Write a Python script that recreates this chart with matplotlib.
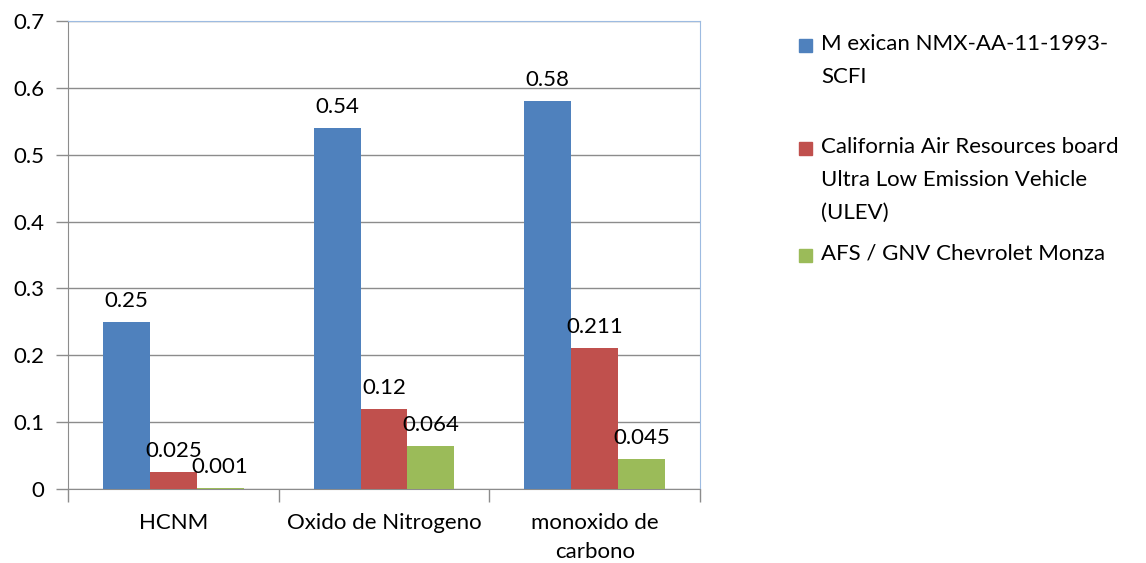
import numpy as np
import matplotlib
matplotlib.use('Agg')
import matplotlib.pyplot as plt
from matplotlib.patches import Rectangle

plt.rcParams['font.family'] = ['Lato', 'DejaVu Sans']

# Data
categories = ['HCNM', 'Oxido de Nitrogeno', 'monoxido de\ncarbono']
series_names = ['M exican NMX-AA-11-1993-\nSCFI',
                'California Air Resources board\nUltra Low Emission Vehicle\n(ULEV)',
                'AFS / GNV Chevrolet Monza']
mexican = [0.25, 0.54, 0.58]
carb_ulev = [0.025, 0.12, 0.211]
afs_gnv = [0.001, 0.064, 0.045]
colors = ['#4F81BD', '#C0504D', '#9BBB59']
yticks = [0, 0.1, 0.2, 0.3, 0.4, 0.5, 0.6, 0.7]
ytick_labels = ['0', '0.1', '0.2', '0.3', '0.4', '0.5', '0.6', '0.7']

fs = 16

fig = plt.figure(figsize=(11.46, 5.63), dpi=100)
ax = fig.add_axes([68/1146, 1 - 489/563, 632/1146, 468/563])

x = np.arange(len(categories))
w = 1 / 4.5
values = [mexican, carb_ulev, afs_gnv]
for i, (vals, c) in enumerate(zip(values, colors)):
    xs = x + (i - 1) * w
    ax.bar(xs, vals, width=w, color=c, zorder=3)
    for xi, v in zip(xs, vals):
        ax.annotate(f'{v:g}', (xi, v), xytext=(0, 8), textcoords='offset points',
                    ha='center', va='bottom', fontsize=fs, color='black', zorder=4)

ax.set_xlim(-0.5, len(categories) - 0.5)
ax.set_ylim(0, 0.7)
ax.set_yticks(yticks)
ax.set_yticklabels(ytick_labels, fontsize=fs)
ax.yaxis.grid(True, color='#8C8C8C', linewidth=1, zorder=0)
ax.set_axisbelow(True)

# category labels between boundary ticks
ax.set_xticks(x)
ax.set_xticklabels(categories, fontsize=fs, linespacing=1.6)
ax.tick_params(axis='x', length=0, pad=17)
ax.set_xticks(np.arange(len(categories) + 1) - 0.5, minor=True)
ax.tick_params(axis='x', which='minor', length=9, color='#8C8C8C', width=1)
ax.tick_params(axis='y', length=9, color='#8C8C8C', width=1, pad=8)

for s in ['left', 'bottom']:
    ax.spines[s].set_color('#8C8C8C')
for s in ['top', 'right']:
    ax.spines[s].set_color('#9DBBE1')

# legend drawn Excel style: marker aligned with first line
legend_y = [45, 148, 255]
for name, c, yy in zip(series_names, colors, legend_y):
    fig.patches.append(Rectangle((799/1146, 1 - (yy + 7)/563), 13/1146, 13/563,
                                 transform=fig.transFigure, color=c))
    fig.text(821/1146, 1 - (yy - 11)/563, name, fontsize=fs, va='top',
             ha='left', linespacing=1.8)

plt.savefig('out.png', dpi=100)
